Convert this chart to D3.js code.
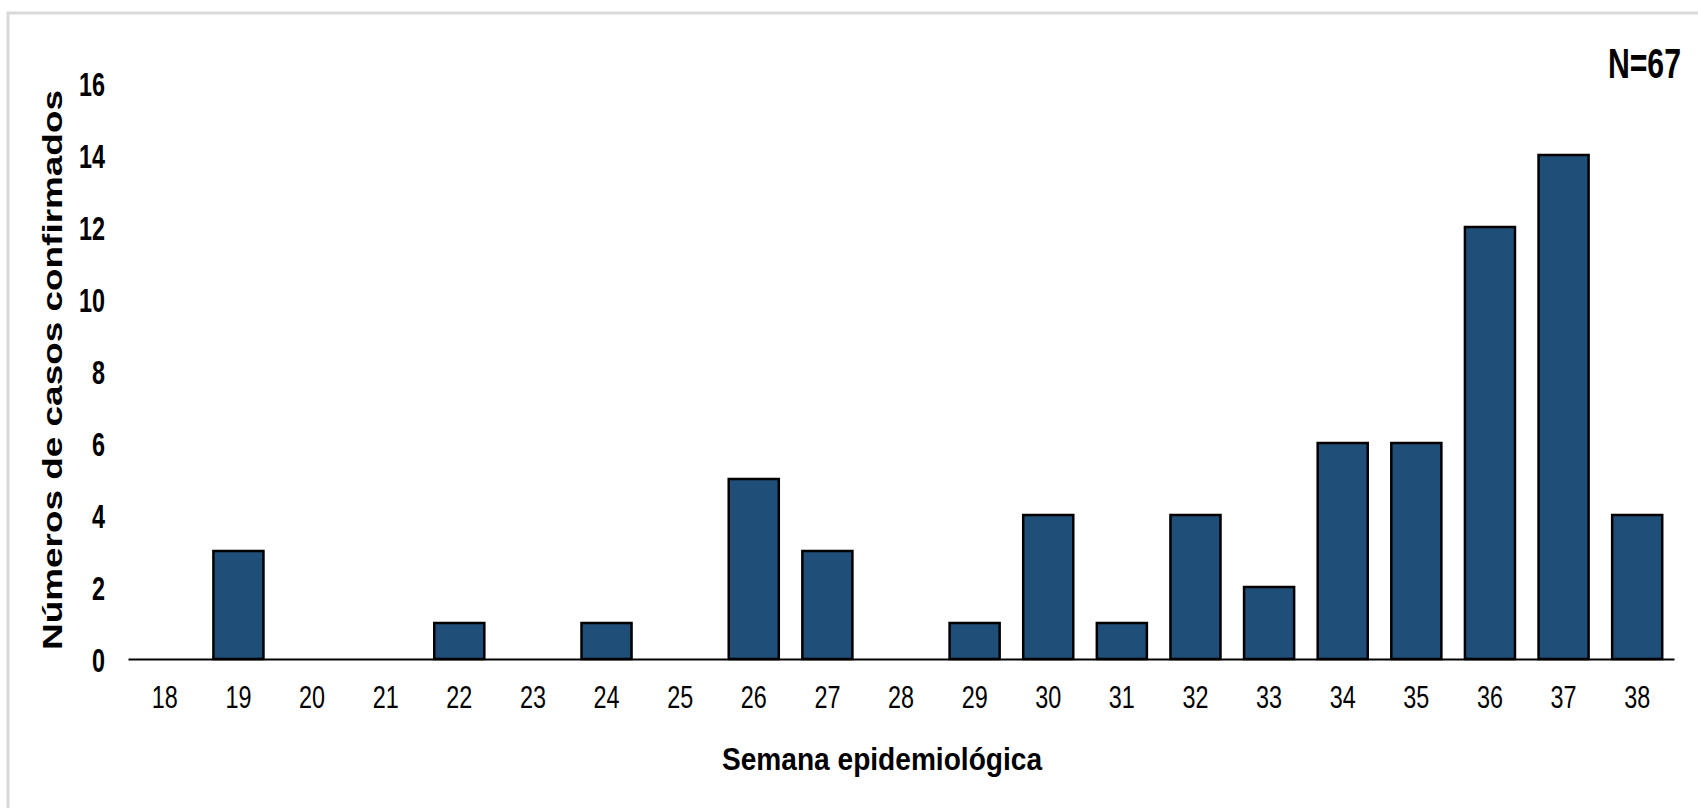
<!DOCTYPE html>
<html>
<head>
<meta charset="utf-8">
<script src="https://cdn.jsdelivr.net/npm/d3@7/dist/d3.min.js"></script>
<style>
  html, body { margin: 0; padding: 0; background: #ffffff; }
  svg { display: block; }
  text { font-family: "Liberation Sans", Arial, sans-serif; fill: #000; }
</style>
</head>
<body>
<svg id="chart" width="1698" height="808"></svg>
<script>
const weeks = ["18","19","20","21","22","23","24","25","26","27","28","29","30","31","32","33","34","35","36","37","38"];
const cases = [0,3,0,0,1,0,1,0,5,3,0,1,4,1,4,2,6,6,12,14,4];
const yTicks = [0,2,4,6,8,10,12,14,16];
const xTitle = "Semana epidemiológica";
const yTitle = "Números de casos confirmados";
const totalLabel = "N=67";

const svg = d3.select("#chart");

// outer frame (cut off at right/bottom like the reference)
svg.append("rect")
  .attr("x", 8).attr("y", 13)
  .attr("width", 2000).attr("height", 2000)
  .attr("fill", "none").attr("stroke", "#d9d9d9").attr("stroke-width", 3);

const x = d3.scaleBand().domain(weeks).range([128, 1674])
  .paddingInner(0.32).paddingOuter(0.16);
const y = d3.scaleLinear().domain([0, 16]).range([659, 83]);

// bars
svg.append("g").selectAll("rect")
  .data(weeks.map((w, i) => ({ w, v: cases[i] })).filter(d => d.v > 0))
  .join("rect")
  .attr("x", d => x(d.w))
  .attr("y", d => y(d.v))
  .attr("width", x.bandwidth())
  .attr("height", d => y(0) - y(d.v))
  .attr("fill", "#1f4e79")
  .attr("stroke", "#000")
  .attr("stroke-width", 2.5);

// x axis
const gx = svg.append("g")
  .attr("transform", `translate(0,${y(0)})`)
  .call(d3.axisBottom(x).tickSize(0).tickPadding(0));
gx.select(".domain").attr("stroke", "#000").attr("stroke-width", 2);
gx.selectAll(".tick text")
  .attr("font-size", 32)
  .attr("font-family", "Liberation Sans, Arial, sans-serif")
  .attr("fill", "#000")
  .attr("dy", null)
  .attr("y", 49)
  .attr("textLength", d => 13 * d.length)
  .attr("lengthAdjust", "spacingAndGlyphs");

// y axis
const gy = svg.append("g")
  .attr("transform", "translate(105,0)")
  .call(d3.axisLeft(y).tickValues(yTicks).tickSize(0).tickPadding(0));
gy.select(".domain").remove();
gy.selectAll(".tick text")
  .attr("font-size", 34)
  .attr("font-weight", "bold")
  .attr("font-family", "Liberation Sans, Arial, sans-serif")
  .attr("fill", "#000")
  .attr("x", 0)
  .attr("dy", "0.36em")
  .attr("textLength", d => 13 * String(d).length)
  .attr("lengthAdjust", "spacingAndGlyphs");

// axis titles
svg.append("text")
  .attr("x", 882).attr("y", 770)
  .attr("text-anchor", "middle")
  .attr("font-size", 32).attr("font-weight", "bold")
  .attr("textLength", 320).attr("lengthAdjust", "spacingAndGlyphs")
  .text(xTitle);

svg.append("text")
  .attr("transform", "translate(62,370) rotate(-90)")
  .attr("text-anchor", "middle")
  .attr("font-size", 28).attr("font-weight", "bold")
  .attr("textLength", 560).attr("lengthAdjust", "spacingAndGlyphs")
  .text(yTitle);

// N label (condensed via horizontal scale)
svg.append("g")
  .attr("transform", "translate(1681,78) scale(0.72,1)")
  .append("text")
  .attr("x", 0).attr("y", 0)
  .attr("text-anchor", "end")
  .attr("font-size", 42).attr("font-weight", "bold")
  .text(totalLabel);
</script>
</body>
</html>
